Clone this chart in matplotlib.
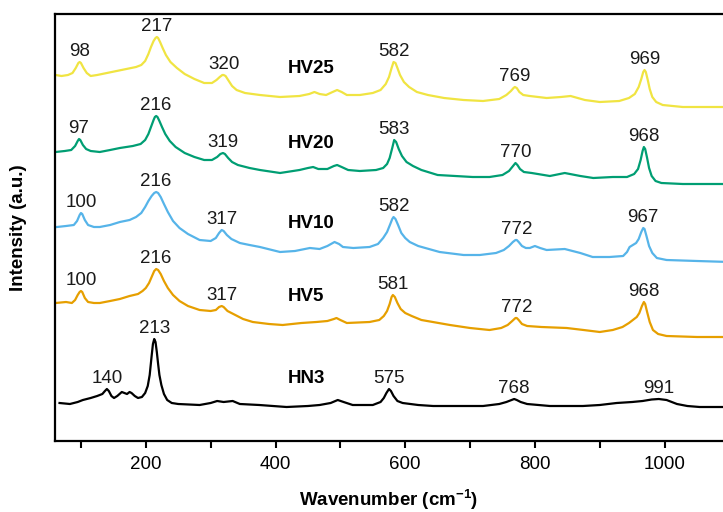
import numpy as np
import matplotlib.pyplot as plt

plt.rcParams['font.family'] = ['Liberation Sans', 'DejaVu Sans']
plt.rcParams['mathtext.fontset'] = 'custom'
plt.rcParams['mathtext.rm'] = 'Liberation Sans'
plt.rcParams['mathtext.bf'] = 'Liberation Sans:bold'

# Raman spectra, vertically offset (intensity in arbitrary units)
wn_hv25 = [61, 70, 80, 87, 92, 96, 98, 100, 104, 109, 115, 125, 140, 155, 170, 185, 193, 199, 204,
           208, 212, 215, 217, 219, 222, 226, 231, 238, 248, 260, 275, 290, 302, 309, 314, 318,
           320, 323, 327, 333, 340, 353, 376, 407, 437, 452, 460, 468, 478, 488, 495, 502, 510,
           530, 550, 562, 570, 575, 579, 582, 585, 588, 592, 598, 606, 618, 635, 660, 690, 720,
           745, 756, 763, 767, 769, 772, 776, 782, 792, 818, 840, 855, 877, 900, 930, 945, 954,
           960, 964, 967, 969, 971, 974, 977, 981, 987, 997, 1028, 1100]
int_hv25 = [366, 365, 366, 368, 373, 378, 379, 378, 373, 368, 365, 366, 368, 370, 372, 374, 376, 380, 387,
            394, 400, 403, 404, 403, 399, 393, 386, 379, 373, 367, 362, 358, 358, 361, 364, 366,
            366, 365, 361, 355, 351, 348, 346, 344, 345, 347, 349, 347, 346, 349, 351, 349, 346,
            346, 348, 351, 357, 364, 373, 379, 378, 373, 366, 359, 354, 349, 346, 343, 341, 340,
            342, 346, 350, 353, 354, 353, 349, 346, 345, 343, 344, 345, 341, 339, 340, 343, 347,
            354, 362, 369, 371, 369, 361, 352, 344, 339, 336, 334, 334]
peaks_hv25 = [98, 217, 320, 582, 769, 969]

wn_hv20 = [61, 75, 85, 91, 95, 97, 99, 103, 108, 115, 129, 145, 160, 180, 192, 199, 204, 208, 212,
           214, 216, 218, 221, 225, 230, 237, 246, 260, 275, 290, 302, 310, 315, 319, 322, 327,
           333, 342, 360, 376, 407, 437, 450, 458, 466, 480, 490, 495, 502, 512, 530, 555, 566,
           572, 576, 580, 583, 586, 590, 595, 602, 612, 625, 650, 704, 730, 750, 760, 765, 770,
           773, 777, 783, 795, 823, 846, 870, 890, 920, 942, 953, 959, 963, 966, 968, 970, 973,
           976, 980, 986, 995, 1028, 1100]
int_hv20 = [289, 290, 291, 295, 300, 302, 301, 296, 292, 290, 289, 291, 293, 295, 297, 301, 307, 314, 321,
            324, 325, 324, 320, 314, 307, 300, 294, 288, 284, 281, 281, 284, 287, 288, 287, 283,
            279, 276, 273, 271, 268, 271, 273, 274, 272, 272, 275, 276, 274, 271, 270, 271, 273,
            277, 283, 293, 301, 299, 292, 285, 279, 275, 271, 266, 264, 264, 266, 270, 274, 278,
            276, 272, 269, 268, 265, 268, 265, 263, 264, 264, 267, 272, 281, 290, 294, 292, 283,
            273, 265, 260, 258, 257, 257]
peaks_hv20 = [97, 216, 319, 583, 770, 968]

wn_hv10 = [63, 77, 89, 94, 98, 100, 102, 106, 111, 120, 129, 145, 160, 175, 185, 193, 199, 204, 209,
           213, 216, 219, 223, 228, 234, 242, 252, 265, 283, 300, 308, 313, 317, 320, 325, 332,
           345, 360, 376, 407, 430, 453, 468, 480, 491, 498, 504, 520, 545, 558, 566, 572, 577,
           580, 582, 585, 589, 594, 600, 607, 620, 653, 690, 715, 740, 752, 760, 766, 770, 772,
           775, 780, 786, 792, 800, 808, 818, 846, 870, 889, 915, 936, 942, 946, 951, 956, 960,
           964, 967, 969, 972, 976, 981, 988, 1003, 1050, 1100]
int_hv10 = [214, 215, 216, 220, 226, 228, 227, 221, 216, 214, 214, 216, 219, 221, 224, 228, 234, 240, 245,
            248, 249, 248, 244, 237, 229, 220, 213, 207, 201, 200, 203, 208, 211, 210, 206, 202,
            198, 196, 194, 189, 190, 193, 192, 195, 199, 197, 194, 193, 194, 197, 203, 209, 217,
            222, 224, 222, 216, 208, 203, 199, 195, 189, 186, 186, 188, 191, 195, 199, 201, 201,
            199, 195, 193, 193, 195, 193, 191, 192, 188, 184, 184, 185, 189, 194, 196, 198, 202,
            209, 213, 212, 205, 195, 188, 183, 181, 180, 179]
peaks_hv10 = [100, 216, 317, 582, 772, 967]

wn_hv5 = [61, 77, 86, 91, 95, 98, 100, 102, 106, 111, 120, 129, 145, 160, 175, 188, 195, 200, 205,
          209, 213, 216, 219, 223, 228, 234, 242, 252, 265, 283, 300, 308, 313, 317, 320, 326,
          335, 350, 365, 390, 411, 440, 463, 480, 490, 494, 500, 510, 545, 560, 567, 572, 576,
          579, 581, 584, 588, 593, 600, 610, 625, 669, 700, 730, 748, 758, 765, 770, 772, 775,
          780, 788, 810, 849, 875, 900, 920, 935, 945, 951, 957, 961, 965, 968, 970, 973, 977,
          982, 990, 1003, 1050, 1100]
int_hv5 = [138, 139, 138, 141, 146, 149, 150, 149, 143, 139, 138, 138, 140, 142, 145, 147, 150, 153, 158,
           164, 170, 172, 171, 167, 160, 153, 146, 140, 135, 131, 130, 131, 134, 135, 134, 130,
           127, 122, 119, 117, 116, 118, 119, 120, 122, 123, 121, 118, 119, 121, 125, 130, 137,
           144, 146, 144, 138, 132, 128, 125, 121, 116, 113, 111, 113, 116, 120, 123, 123, 121,
           117, 115, 114, 113, 111, 109, 111, 114, 118, 121, 124, 128, 135, 139, 137, 129, 119,
           111, 107, 105, 104, 104]
peaks_hv5 = [100, 216, 317, 581, 772, 968]

wn_hn3 = [67, 83, 95, 103, 115, 125, 133, 137, 140, 143, 147, 151, 156, 163, 167, 171, 175, 178, 183,
          188, 194, 199, 203, 206, 209, 211, 213, 215, 217, 219, 221, 224, 228, 233, 240, 250,
          283, 300, 310, 320, 334, 345, 375, 417, 450, 468, 485, 496, 505, 519, 550, 562, 567,
          571, 575, 578, 582, 588, 596, 620, 643, 720, 745, 756, 764, 768, 772, 778, 788, 823,
          874, 900, 926, 950, 966, 980, 991, 1003, 1019, 1035, 1054, 1100]
int_hn3 = [38, 37, 39, 41, 43, 45, 47, 50, 52, 50, 45, 43, 45, 49, 48, 47, 49, 48, 45,
           43, 44, 48, 55, 66, 85, 97, 102, 99, 89, 77, 66, 56, 47, 41, 38, 37,
           36, 38, 40, 39, 40, 37, 36, 34, 35, 36, 38, 41, 39, 36, 36, 39, 43,
           48, 52, 50, 45, 40, 38, 36, 35, 35, 37, 39, 41, 42, 41, 39, 37, 35,
           35, 36, 38, 39, 40, 41.5, 42, 41, 37, 35, 34, 34]
peaks_hn3 = [140, 213, 575, 768, 991]

samples = ['HV25', 'HV20', 'HV10', 'HV5', 'HN3']
colors = ['#F0E442', '#009E73', '#56B4E9', '#E69F00', '#000000']
spectra = [(wn_hv25, int_hv25, peaks_hv25), (wn_hv20, int_hv20, peaks_hv20),
           (wn_hv10, int_hv10, peaks_hv10), (wn_hv5, int_hv5, peaks_hv5),
           (wn_hn3, int_hn3, peaks_hn3)]

fig = plt.figure(figsize=(7.23, 5.12), dpi=100)
ax = fig.add_axes([55 / 723, 71 / 512, 668 / 723, 427 / 512])

for name, color, (wn, inten, peaks) in zip(samples, colors, spectra):
    ax.plot(wn, inten, color=color, linewidth=1.6, solid_joinstyle='round')
    # peak positions written just above each band
    for p in peaks:
        ax.text(p, np.interp(p, wn, inten) + 6, str(p), ha='center', va='baseline',
                fontsize=13.5, color='#1a1a1a')
    ax.text(419, np.interp(419, wn, inten) + 28, name, ha='left', va='center',
            fontsize=13.5, fontweight='bold')

ax.set_xlim(60, 1090)
ax.set_ylim(0, 427)
ax.set_xticks([200, 400, 600, 800, 1000])
ax.set_xticks([100, 300, 500, 700, 900], minor=True)
ax.tick_params(axis='x', which='both', direction='out', length=5, width=1.5, labelsize=13.5, pad=6)
ax.set_yticks([])
for side in ['left', 'bottom', 'top']:
    ax.spines[side].set_linewidth(1.6)
ax.spines['right'].set_visible(False)

ax.set_xlabel(r'Wavenumber (cm$^{\mathbf{-1}}$)', fontsize=13.5, fontweight='bold', labelpad=10)
ax.set_ylabel('Intensity (a.u.)', fontsize=13.5, fontweight='bold', labelpad=20)

fig.savefig('out.png', dpi=100)
